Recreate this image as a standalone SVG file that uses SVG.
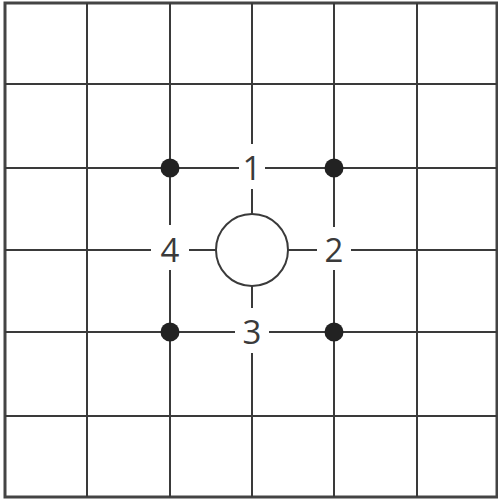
<svg xmlns="http://www.w3.org/2000/svg" width="498" height="499" viewBox="0 0 498 499">
<style>
.ln{stroke:#3a3a3a;stroke-width:2;fill:none}
.bd{stroke:#444;stroke-width:3;fill:none}
.dot{fill:#222}
.lb{font-family:"Open Sans","Noto Sans",sans-serif;font-size:33px;fill:#3a3a3a;text-anchor:middle}
</style>
<rect width="498" height="499" fill="#fff"/>
<g id="connectors">
<rect class="bd" x="5" y="3" width="492" height="494"/>
<line class="ln" x1="87" y1="3" x2="87" y2="497"/>
<line class="ln" x1="417" y1="3" x2="417" y2="497"/>
<line class="ln" x1="5" y1="84" x2="497" y2="84"/>
<line class="ln" x1="5" y1="416" x2="497" y2="416"/>
<line class="ln" x1="170" y1="3" x2="170" y2="225"/>
<line class="ln" x1="170" y1="270" x2="170" y2="497"/>
<line class="ln" x1="334" y1="3" x2="334" y2="227"/>
<line class="ln" x1="334" y1="270" x2="334" y2="497"/>
<line class="ln" x1="5" y1="168" x2="239" y2="168"/>
<line class="ln" x1="265" y1="168" x2="497" y2="168"/>
<line class="ln" x1="5" y1="332" x2="235" y2="332"/>
<line class="ln" x1="269" y1="332" x2="497" y2="332"/>
<line class="ln" x1="252" y1="3" x2="252" y2="144"/>
<line class="ln" x1="252" y1="189" x2="252" y2="214"/>
<line class="ln" x1="252" y1="286" x2="252" y2="308"/>
<line class="ln" x1="252" y1="353" x2="252" y2="497"/>
<line class="ln" x1="5" y1="250" x2="151" y2="250"/>
<line class="ln" x1="189" y1="250" x2="216" y2="250"/>
<line class="ln" x1="288" y1="250" x2="317" y2="250"/>
<line class="ln" x1="351" y1="250" x2="497" y2="250"/>
</g>
<g id="center"><circle cx="252" cy="250" r="36" fill="#fff" stroke="#3a3a3a" stroke-width="2"/></g>
<g id="dot-tl"><circle class="dot" cx="170" cy="168" r="9.5"/></g>
<g id="dot-tr"><circle class="dot" cx="334" cy="168" r="9.5"/></g>
<g id="dot-bl"><circle class="dot" cx="170" cy="332" r="9.5"/></g>
<g id="dot-br"><circle class="dot" cx="334" cy="332" r="9.5"/></g>
<g id="label-1"><text class="lb" x="252" y="180">1</text></g>
<g id="label-2"><text class="lb" x="334" y="262">2</text></g>
<g id="label-3"><text class="lb" x="252" y="344">3</text></g>
<g id="label-4"><text class="lb" x="170" y="262">4</text></g>
</svg>
